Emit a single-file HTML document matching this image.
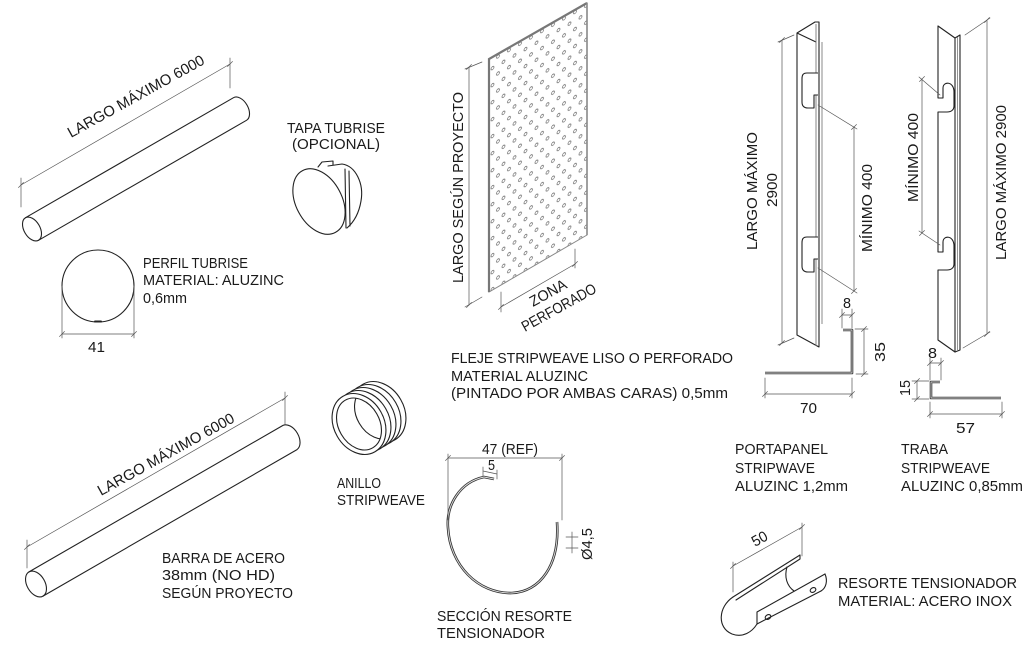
<!DOCTYPE html>
<html><head><meta charset="utf-8"><style>
html,body{margin:0;padding:0;background:#fff;}
svg{display:block;}
text{font-family:"Liberation Sans",sans-serif;font-size:15px;fill:#1a1a1a;}
</style></head><body>
<svg width="1024" height="657" viewBox="0 0 1024 657" xmlns="http://www.w3.org/2000/svg">
<defs>
<pattern id="dots" patternUnits="userSpaceOnUse" width="11" height="17" patternTransform="skewY(-30)">
<circle cx="3" cy="4" r="1.5" fill="none" stroke="#555" stroke-width="0.7"/>
<circle cx="8.5" cy="12.5" r="1.5" fill="none" stroke="#555" stroke-width="0.7"/>
</pattern>
<clipPath id="ringIn"><ellipse cx="359" cy="424" rx="27.5" ry="20.5" transform="rotate(60 359 424)"/></clipPath>
</defs>

<!-- ===== OBJECTS ===== -->
<g fill="none" stroke="#222" stroke-width="1.1" stroke-linejoin="round" stroke-linecap="round">
<!-- top tube -->
<path d="M25.5,217.7 L233.5,97.7 A13,8 60 0 1 246.5,120.3 L38.5,240.3"/>
<ellipse cx="32" cy="229" rx="13" ry="8" transform="rotate(60 32 229)"/>
<!-- bottom bar -->
<path d="M29,571.9 L283,425.4 A14,9 60 0 1 297,449.6 L43,596.1"/>
<ellipse cx="36" cy="584" rx="14" ry="9" transform="rotate(60 36 584)"/>
<!-- profile circle -->
<circle cx="98" cy="286" r="36"/>
<path d="M95,321.5 L101,321.5" stroke-width="2"/>
<!-- tapa -->
<path d="M318,167 L322,162 L333,161 L333,165" />
<path d="M328,166 L342,164 C356,166 364,184 361,201 C359,213 354,222 347,228" fill="#fff"/>
<path d="M345,169 L346,228 M349,171 L350,226"/>
<ellipse cx="319" cy="201.5" rx="35" ry="23" transform="rotate(62 319 201.5)" fill="#fff"/>
<!-- ring -->
<ellipse cx="379" cy="412" rx="32" ry="25" transform="rotate(60 379 412)" fill="#fff"/>
<ellipse cx="374" cy="415" rx="32" ry="25" transform="rotate(60 374 415)" fill="#fff"/>
<ellipse cx="369" cy="418" rx="32" ry="25" transform="rotate(60 369 418)" fill="#fff"/>
<ellipse cx="364" cy="421" rx="32" ry="25" transform="rotate(60 364 421)" fill="#fff"/>
<ellipse cx="359" cy="424" rx="32" ry="25" transform="rotate(60 359 424)" fill="#fff"/>
<ellipse cx="359" cy="424" rx="27.5" ry="20.5" transform="rotate(60 359 424)"/>
<g clip-path="url(#ringIn)"><ellipse cx="377" cy="413" rx="27.5" ry="20.5" transform="rotate(60 377 413)"/></g>
</g>

<!-- perforated panel -->
<polygon points="489,59 587,3 587,235 489,292" fill="url(#dots)" stroke="#888" stroke-width="1"/>
<path d="M489,292 L489,59 L587,3" fill="none" stroke="#777" stroke-width="2.2"/>
<path d="M587,3 L587,235" fill="none" stroke="#888" stroke-width="1.6"/>

<!-- portapanel -->
<g fill="none" stroke="#222" stroke-width="1.1" stroke-linejoin="round">
<path d="M797,33 L815,22 L819,22 L819,347 L797,335 Z" fill="#fff"/>
<path d="M797,33 L816,42"/>
<path d="M816,24 L816,346" stroke="#777" stroke-width="0.9"/>
<path d="M822,42 L822,324" stroke="#888" stroke-width="1"/>
<path d="M818,73 L807,73 C803,73 802,75 802,79 L802,102 C802,106 804,108 808,108 L814,108 L814,95 L818,95" fill="#fff"/>
<path d="M818,237 L807,237 C803,237 802,239 802,243 L802,266 C802,270 804,272 808,272 L814,272 L814,259 L818,259" fill="#fff"/>
</g>

<!-- traba -->
<g fill="none" stroke="#222" stroke-width="1.1" stroke-linejoin="round">
<path d="M955,38 L938,26 L938,98 L943,98 L943,88 C943,81 954,81 954,92 L954,106 C954,110 951,112 947,112 L938,112 L938,252 L943,252 L943,242 C943,235 954,235 954,246 L954,264 C954,268 951,270 947,270 L938,270 L938,340 L955,352 Z" fill="#fff"/>
<path d="M955,38 L960,35 L960,350 L955,352"/>
<path d="M957.5,37 L957.5,351" stroke="#777" stroke-width="0.8"/>
</g>

<!-- profiles -->
<g fill="none" stroke-linejoin="round" stroke-linecap="butt">
<path d="M765,373 L852,373 L852,330 L843,330" stroke="#333" stroke-width="2.6"/>
<path d="M765,373 L852,373 L852,330 L843,330" stroke="#cfcfcf" stroke-width="0.9"/>
<path d="M940,382 L931,382 L931,398 L1001,398" stroke="#333" stroke-width="2.6"/>
<path d="M940,382 L931,382 L931,398 L1001,398" stroke="#cfcfcf" stroke-width="0.9"/>
<!-- section resorte -->
<path d="M494,479 L484,477 C460,482 446,505 448,528 C450,565 478,594 512,593 C540,592 560,565 557,522" stroke="#333" stroke-width="2.6"/>
<path d="M494,479 L484,477 C460,482 446,505 448,528 C450,565 478,594 512,593 C540,592 560,565 557,522" stroke="#e0e0e0" stroke-width="0.9"/>
</g>

<!-- resorte tensionador -->
<g fill="none" stroke="#222" stroke-width="1.1" stroke-linejoin="round" stroke-linecap="round">
<path d="M733,597 L800,555 L800,559 L736,600"/>
<path d="M733,597 C718,607 717,628 732,634 C743,638 752,632 757,624"/>
<path d="M757,612 L825,574 M757,624 L821,591 M757,612 L757,624"/>
<path d="M825,574 C828,581 826,588 821,591"/>
<path d="M787,567 C784,577 787,586 794,591"/>
<ellipse cx="768" cy="617" rx="3" ry="2.2" transform="rotate(-30 768 617)"/>
<ellipse cx="813" cy="590" rx="3" ry="2.2" transform="rotate(-30 813 590)"/>
</g>

<!-- ===== DIMENSIONS ===== -->
<g fill="none" stroke="#555" stroke-width="0.7" stroke-linecap="round">
<path d="M21,185 L230,64 M21,178 L21,207 M230,58 L230,88"/>
<path d="M18.5,187.5 L23.5,182.5 M227.5,66.5 L232.5,61.5"/>
<path d="M27,547 L285,398 M27,540 L27,568 M285,392 L285,424"/>
<path d="M24.5,549.5 L29.5,544.5 M282.5,400.5 L287.5,395.5"/>
<path d="M62,334 L134,334 M62,286 L62,338 M134,286 L134,338"/>
<path d="M59.5,336.5 L64.5,331.5 M131.5,336.5 L136.5,331.5"/>
<path d="M469,67 L469,305 M465,69 L482,62 M465,307 L482,297"/>
<path d="M466.5,69.5 L471.5,64.5 M466.5,307.5 L471.5,302.5"/>
<path d="M501,307 L575,264 M501,292 L501,312 M575,249 L575,268"/>
<path d="M498.5,309.5 L503.5,304.5 M572.5,266.5 L577.5,261.5"/>
<path d="M782,40 L782,343 M778,42 L794,35 M778,345 L794,338"/>
<path d="M779.5,42.5 L784.5,37.5 M779.5,345.5 L784.5,340.5"/>
<path d="M854,127 L854,291 M818,105 L857,129 M818,268 L857,293"/>
<path d="M851.5,129.5 L856.5,124.5 M851.5,293.5 L856.5,288.5"/>
<path d="M922,79 L922,233 M919,77 L940,95 M919,231 L940,245"/>
<path d="M919.5,81.5 L924.5,76.5 M919.5,235.5 L924.5,230.5"/>
<path d="M987,20 L987,334 M965,35 L990,18 M963,348 L990,332"/>
<path d="M984.5,22.5 L989.5,17.5 M984.5,336.5 L989.5,331.5"/>
<path d="M842,315 L852,315 M842,309 L842,328 M852,309 L852,328"/>
<path d="M839.5,317.5 L844.5,312.5 M849.5,317.5 L854.5,312.5"/>
<path d="M864,329 L864,374 M855,329 L868,329 M856,374 L868,374"/>
<path d="M861.5,331.5 L866.5,326.5 M861.5,376.5 L866.5,371.5"/>
<path d="M765,394 L852,394 M765,378 L765,398 M852,378 L852,398"/>
<path d="M762.5,396.5 L767.5,391.5 M849.5,396.5 L854.5,391.5"/>
<path d="M930,363 L941,363 M930,358 L930,380 M941,358 L941,380"/>
<path d="M927.5,365.5 L932.5,360.5 M938.5,365.5 L943.5,360.5"/>
<path d="M917,381 L917,399 M912,381 L929,381 M912,399 L929,399"/>
<path d="M914.5,383.5 L919.5,378.5 M914.5,401.5 L919.5,396.5"/>
<path d="M930,414 L1002,414 M930,402 L930,418 M1002,402 L1002,418"/>
<path d="M927.5,416.5 L932.5,411.5 M999.5,416.5 L1004.5,411.5"/>
<path d="M448,458 L562,458 M448,454 L448,520 M562,454 L562,520"/>
<path d="M445.5,460.5 L450.5,455.5 M559.5,460.5 L564.5,455.5"/>
<path d="M483,471 L497,474 M483,467 L483,476 M497,470 L497,479"/>
<path d="M566,537 L578,537 M566,548 L578,548 M572,532 L572,553"/>
<path d="M733,566 L802,527 M733,562 L733,592 M802,523 L802,556"/>
<path d="M730.5,568.5 L735.5,563.5 M799.5,529.5 L804.5,524.5"/>
</g>

<!-- ===== TEXT ===== -->
<g>
<text x="143" y="268" textLength="105" lengthAdjust="spacingAndGlyphs">PERFIL TUBRISE</text>
<text x="143" y="285" textLength="141" lengthAdjust="spacingAndGlyphs">MATERIAL: ALUZINC</text>
<text x="143" y="303" textLength="44" lengthAdjust="spacingAndGlyphs">0,6mm</text>
<text x="88" y="352" textLength="17" lengthAdjust="spacingAndGlyphs">41</text>
<text x="287" y="133" textLength="98" lengthAdjust="spacingAndGlyphs">TAPA TUBRISE</text>
<text x="292" y="149" textLength="88" lengthAdjust="spacingAndGlyphs">(OPCIONAL)</text>
<text x="451" y="363" textLength="282" lengthAdjust="spacingAndGlyphs">FLEJE STRIPWEAVE LISO O PERFORADO</text>
<text x="451" y="381" textLength="137" lengthAdjust="spacingAndGlyphs">MATERIAL ALUZINC</text>
<text x="451" y="398" textLength="277" lengthAdjust="spacingAndGlyphs">(PINTADO POR AMBAS CARAS) 0,5mm</text>
<text x="337" y="488" textLength="44" lengthAdjust="spacingAndGlyphs">ANILLO</text>
<text x="337" y="505" textLength="88" lengthAdjust="spacingAndGlyphs">STRIPWEAVE</text>
<text x="162" y="563" textLength="123" lengthAdjust="spacingAndGlyphs">BARRA DE ACERO</text>
<text x="162" y="580" textLength="113" lengthAdjust="spacingAndGlyphs">38mm (NO HD)</text>
<text x="162" y="598" textLength="131" lengthAdjust="spacingAndGlyphs">SEGÚN PROYECTO</text>
<text x="482" y="454" textLength="56" lengthAdjust="spacingAndGlyphs">47 (REF)</text>
<text x="488" y="470" textLength="7" lengthAdjust="spacingAndGlyphs">5</text>
<text x="437" y="621" textLength="135" lengthAdjust="spacingAndGlyphs">SECCIÓN RESORTE</text>
<text x="437" y="638" textLength="108" lengthAdjust="spacingAndGlyphs">TENSIONADOR</text>
<text x="735" y="454" textLength="93" lengthAdjust="spacingAndGlyphs">PORTAPANEL</text>
<text x="735" y="473" textLength="80" lengthAdjust="spacingAndGlyphs">STRIPWAVE</text>
<text x="735" y="491" textLength="113" lengthAdjust="spacingAndGlyphs">ALUZINC 1,2mm</text>
<text x="901" y="454" textLength="47" lengthAdjust="spacingAndGlyphs">TRABA</text>
<text x="901" y="473" textLength="89" lengthAdjust="spacingAndGlyphs">STRIPWEAVE</text>
<text x="901" y="491" textLength="122" lengthAdjust="spacingAndGlyphs">ALUZINC 0,85mm</text>
<text x="838" y="588" textLength="179" lengthAdjust="spacingAndGlyphs">RESORTE TENSIONADOR</text>
<text x="838" y="606" textLength="174" lengthAdjust="spacingAndGlyphs">MATERIAL: ACERO INOX</text>
<text x="800" y="413" textLength="17" lengthAdjust="spacingAndGlyphs">70</text>
<text x="956" y="433" textLength="19" lengthAdjust="spacingAndGlyphs">57</text>
<text x="843" y="308" textLength="8" lengthAdjust="spacingAndGlyphs">8</text>
<text x="928" y="358" textLength="9" lengthAdjust="spacingAndGlyphs">8</text>

<text transform="translate(463,283) rotate(-90)" textLength="191" lengthAdjust="spacingAndGlyphs">LARGO SEGÚN PROYECTO</text>
<text transform="translate(757,250) rotate(-90)" textLength="118" lengthAdjust="spacingAndGlyphs">LARGO MÁXIMO</text>
<text transform="translate(777,207) rotate(-90)" textLength="34" lengthAdjust="spacingAndGlyphs">2900</text>
<text transform="translate(872,252) rotate(-90)" textLength="88" lengthAdjust="spacingAndGlyphs">MÍNIMO 400</text>
<text transform="translate(918,202) rotate(-90)" textLength="89" lengthAdjust="spacingAndGlyphs">MÍNIMO 400</text>
<text transform="translate(1006,260) rotate(-90)" textLength="155" lengthAdjust="spacingAndGlyphs">LARGO MÁXIMO 2900</text>
<text transform="translate(885,362) rotate(-90)" textLength="20" lengthAdjust="spacingAndGlyphs">35</text>
<text transform="translate(910,396) rotate(-90)" textLength="16" lengthAdjust="spacingAndGlyphs">15</text>
<text transform="translate(592,560) rotate(-90)" textLength="32" lengthAdjust="spacingAndGlyphs">Ø4,5</text>

<text transform="translate(71,138) rotate(-29)" textLength="154" lengthAdjust="spacingAndGlyphs">LARGO MÁXIMO 6000</text>
<text transform="translate(101,496) rotate(-29)" textLength="154" lengthAdjust="spacingAndGlyphs">LARGO MÁXIMO 6000</text>
<text transform="translate(533,307) rotate(-29)" textLength="40" lengthAdjust="spacingAndGlyphs">ZONA</text>
<text transform="translate(525,332) rotate(-29)" textLength="83" lengthAdjust="spacingAndGlyphs">PERFORADO</text>
<text transform="translate(755,547) rotate(-29)" textLength="16" lengthAdjust="spacingAndGlyphs">50</text>
</g>
</svg>
</body></html>
